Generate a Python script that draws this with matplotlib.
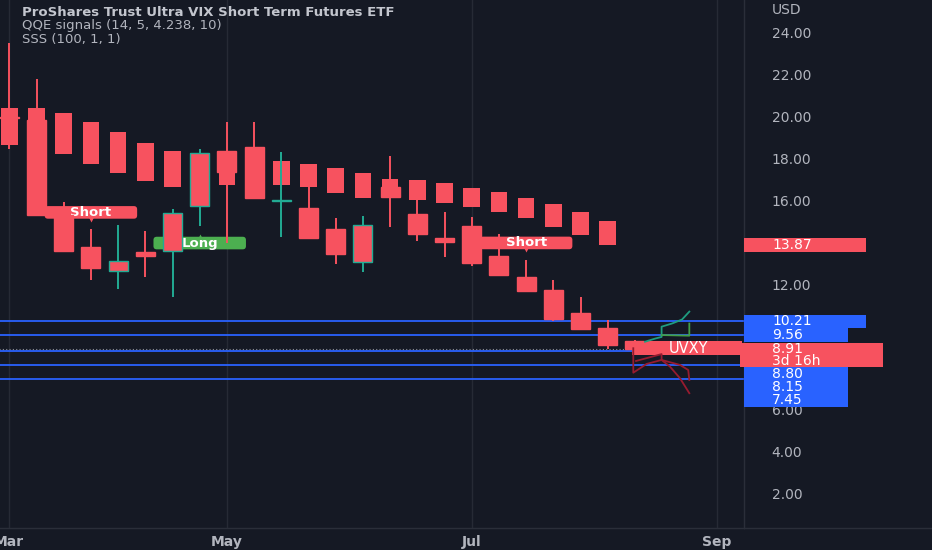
import matplotlib
matplotlib.use("Agg")
import matplotlib.pyplot as plt
import matplotlib.transforms as mtransforms
from matplotlib.patches import Rectangle, FancyBboxPatch
from matplotlib.lines import Line2D

# ---------------- data (weekly bars) ----------------
opens  = [19.97, 19.84, 15.30, 13.78, 12.61, 13.54, 13.58, 15.73, 18.37, 18.56, 15.98, 15.63,
          14.63, 13.07, 16.62, 15.33, 14.20, 14.77, 13.34, 12.35, 11.71, 10.63, 9.90, 9.29]
highs  = [23.51, 21.81, 15.93, 14.61, 14.83, 14.55, 15.59, 18.45, 19.76, 19.76, 18.30, 16.73,
          15.14, 15.26, 18.12, 16.11, 15.43, 15.19, 14.38, 13.15, 12.19, 11.39, 10.28, 9.30]
lows   = [18.44, 15.25, 13.58, 12.19, 11.75, 12.35, 11.36, 14.77, 13.97, 16.05, 14.23, 14.17,
          12.96, 12.56, 14.71, 14.07, 13.30, 12.86, 12.42, 11.62, 10.25, 9.83, 8.88, 8.90]
closes = [19.93, 15.30, 13.59, 12.75, 13.11, 13.34, 15.38, 18.28, 17.37, 16.10, 16.02, 14.20,
          13.45, 14.81, 16.17, 14.38, 14.03, 12.99, 12.44, 11.68, 10.31, 9.86, 9.08, 8.91]

# SSS indicator boxes (open / close)
sss_open  = [20.43, 20.41, 20.19, 19.73, 19.25, 18.75, 18.36, 18.21, 18.12, 18.02, 17.89, 17.74,
             17.53, 17.29, 17.02, 16.97, 16.81, 16.59, 16.38, 16.11, 15.81, 15.43, 15.03]
sss_close = [18.64, 18.41, 18.21, 17.75, 17.29, 16.94, 16.65, 16.49, 16.73, 16.68, 16.75, 16.62,
             16.36, 16.13, 16.25, 16.02, 15.86, 15.70, 15.46, 15.14, 14.74, 14.34, 13.87]

# QQE signals: (bar index, text)
signal_bars  = [3, 7, 19]
signal_texts = ["Short", "Long", "Short"]

# horizontal levels
levels = [10.21, 9.56, 8.80, 8.15, 7.45]
last_price = 8.91
countdown = "3d 16h"
sss_last = 13.87

# projection paths (bar index, price)
green_a_x = [23.37, 23.74, 23.98, 23.98, 24.36, 24.73, 25.0]
green_a_y = [9.24, 9.39, 9.47, 9.96, 10.11, 10.30, 10.68]
green_b_x = [23.98, 25.0, 25.0]
green_b_y = [9.56, 9.53, 10.11]
red_c_x = [22.94, 22.94, 23.43, 23.98, 24.29, 24.66, 25.0]
red_c_y = [8.93, 7.76, 8.18, 8.37, 8.05, 7.49, 6.78]
red_d_x = [23.04, 23.98, 23.98, 24.66, 24.96, 25.0]
red_d_y = [8.32, 8.65, 8.37, 8.13, 7.89, 7.41]

month_bars = [0, 8, 17, 26]
month_labels = ["Mar", "May", "Jul", "Sep"]
ytick_vals = [2, 4, 6, 12, 16, 18, 20, 22, 24]

title = "ProShares Trust Ultra VIX Short Term Futures ETF"
ind1 = "QQE signals (14, 5, 4.238, 10)"
ind2 = "SSS (100, 1, 1)"
symbol = "UVXY"

# ---------------- style ----------------
BG = "#151924"
RED = "#f7525f"
TEAL = "#22ab94"
GREEN = "#4caf50"
BLUE = "#2962ff"
GRID = "#262a35"
TXT = "#b2b5be"
DRED = "#971b2f"

plt.rcParams["font.family"] = ["DejaVu Sans"]

W, H = 932, 550
fig = plt.figure(figsize=(W / 100, H / 100), dpi=100, facecolor=BG)
plot_w, plot_h, bottom_px = 744, 528, 22
ax = fig.add_axes([0, bottom_px / H, plot_w / W, plot_h / H])
ax.set_facecolor(BG)
ymin, ymax = 0.337, 25.575
ax.set_xlim(-0.342, 27.01)
ax.set_ylim(ymin, ymax)
px_per_unit = plot_h / (ymax - ymin)

for s in ["top", "left"]:
    ax.spines[s].set_visible(False)
for s in ["right", "bottom"]:
    ax.spines[s].set_color("#2a2e39")
    ax.spines[s].set_linewidth(1)

ax.set_xticks(month_bars)
ax.set_xticklabels(month_labels)
ax.tick_params(axis="x", length=0, pad=5, labelcolor=TXT, labelsize=10)
for t in ax.get_xticklabels():
    t.set_fontweight("bold")
ax.grid(axis="x", color=GRID, lw=1)
ax.grid(axis="y", visible=False)

ax.yaxis.tick_right()
ax.set_yticks(ytick_vals)
ax.set_yticklabels([f"{v:.2f}" for v in ytick_vals])
ax.tick_params(axis="y", length=0, pad=20, labelcolor=TXT, labelsize=10)

# ---------------- candles ----------------
xs = list(range(len(opens)))
bot = [min(o, c) for o, c in zip(opens, closes)]
hgt = [max(abs(c - o), 0.05) for o, c in zip(opens, closes)]
up = [c >= o for o, c in zip(opens, closes)]
edge = [TEAL if u else RED for u in up]

# SSS boxes
sx = list(range(len(sss_open)))
ax.bar(sx, [o - c for o, c in zip(sss_open, sss_close)], bottom=sss_close, width=0.61,
       color=RED, linewidth=0, zorder=3)
ax.vlines(xs, lows, highs, colors=edge, lw=1.4, zorder=3.5)
ax.bar(xs, hgt, bottom=bot, width=0.70, color=RED, edgecolor=edge, linewidth=1.0, zorder=4)

# ---------------- signal labels ----------------
off = 17 / px_per_unit
lab_h = 12.6 / px_per_unit
lab_w = 3.4
for b, t in zip(signal_bars, signal_texts):
    if t == "Short":
        yc = highs[b] + off
        col = RED
        ax.plot(b, yc - lab_h / 2, marker="v", ms=5, color=col, mec="none", zorder=2)
    else:
        yc = lows[b] - off
        col = GREEN
        ax.plot(b, yc + lab_h / 2, marker="^", ms=5, color=col, mec="none", zorder=2)
    ax.add_patch(FancyBboxPatch((b - lab_w / 2, yc - lab_h / 2), lab_w, lab_h,
                                boxstyle="round,pad=0,rounding_size=0.12",
                                mutation_aspect=1.3, fc=col, ec="none", zorder=2))
    ax.text(b, yc, t, color="white", fontsize=9.5, fontweight="bold",
            ha="center", va="center", zorder=2.5)

# ---------------- levels ----------------
for lv in levels:
    ax.axhline(lv, color=BLUE, lw=1.3, zorder=2)
ax.hlines(last_price, -0.4, len(opens) - 1 - 0.1, colors="#8a8d96", lw=0.8,
          linestyles=(0, (1, 2)), zorder=2)

# projection paths
ax.plot(green_a_x, green_a_y, color="#1f9d80", lw=1.3, zorder=6)
ax.plot(green_b_x, green_b_y, color="#43a047", lw=1.3, zorder=6)
ax.plot(red_c_x, red_c_y, color=DRED, lw=1.3, zorder=6)
ax.plot(red_d_x, red_d_y, color=DRED, lw=1.3, zorder=6)

# symbol label on last price
btr = mtransforms.blended_transform_factory(ax.transAxes, ax.transData)
sym_h = 14.3 / px_per_unit
ax.add_patch(Rectangle((0.849, last_price + 0.03 - sym_h / 2), 0.148, sym_h,
                       transform=btr, fc=RED, ec="none", zorder=5))
ax.text(0.925, last_price + 0.03, symbol, transform=btr, color="white", fontsize=10.5,
        ha="center", va="center", zorder=5.5)

# legend texts
ax.text(22 / plot_w, 1 - 12 / plot_h, title, transform=ax.transAxes, color="#c3c6ce",
        fontsize=9.5, fontweight="bold", ha="left", va="center", clip_on=True)
ax.text(22 / plot_w, 1 - 26 / plot_h, ind1, transform=ax.transAxes, color=TXT,
        fontsize=9.5, ha="left", va="center")
ax.text(22 / plot_w, 1 - 40 / plot_h, ind2, transform=ax.transAxes, color=TXT,
        fontsize=9.5, ha="left", va="center")

# ---------------- right price scale overlay ----------------
axr = fig.add_axes([plot_w / W, bottom_px / H, (W - plot_w) / W, plot_h / H])
axr.set_xlim(0, 1)
axr.set_ylim(ymin, ymax)
axr.axis("off")
rtr = mtransforms.blended_transform_factory(axr.transAxes, axr.transData)
tx = 28 / (W - plot_w)

axr.text(tx, 1 - 10 / plot_h, "USD", transform=axr.transAxes, color=TXT, fontsize=10,
         ha="left", va="center")

# 13.87 SSS label
h1 = 13.7 / px_per_unit
axr.add_patch(Rectangle((0, sss_last - h1 / 2), 0.649, h1, transform=rtr, fc=RED, ec="none",
                        zorder=5, clip_on=False))
axr.text(tx, sss_last, f"{sss_last:.2f}", transform=rtr, color="white", fontsize=10,
         ha="left", va="center", zorder=6)

# stacked level labels
stack = [(levels[0], [f"{levels[0]:.2f}"], BLUE, 0.0, 0.649, 13.2),
         (levels[1], [f"{levels[1]:.2f}"], BLUE, 0.0, 0.553, 13.2),
         (last_price, [f"{last_price:.2f}", countdown], RED, -0.02, 0.738, 12.2),
         (levels[2], [f"{levels[2]:.2f}"], BLUE, 0.0, 0.553, 13.2),
         (levels[3], [f"{levels[3]:.2f}"], BLUE, 0.0, 0.553, 13.2),
         (levels[4], [f"{levels[4]:.2f}"], BLUE, 0.0, 0.553, 13.2)]
cursor = None
for val, lines, col, x0, x1, lh in stack:
    lhp = lh / px_per_unit
    top = val + lhp / 2
    if cursor is not None:
        top = min(top, cursor)
    bottom = top - len(lines) * lhp
    axr.add_patch(Rectangle((x0, bottom), x1 - x0, top - bottom, transform=rtr, fc=col,
                            ec="none", zorder=5, clip_on=False))
    for k, ln in enumerate(lines):
        axr.text(tx, top - (k + 0.5) * lhp, ln, transform=rtr, color="white", fontsize=10,
                 ha="left", va="center", zorder=6)
    cursor = bottom

# bottom separator across the price scale
fig.add_artist(Line2D([plot_w / W, 1], [bottom_px / H, bottom_px / H], color="#2a2e39", lw=1))

fig.savefig("out.png", dpi=100, facecolor=BG)
